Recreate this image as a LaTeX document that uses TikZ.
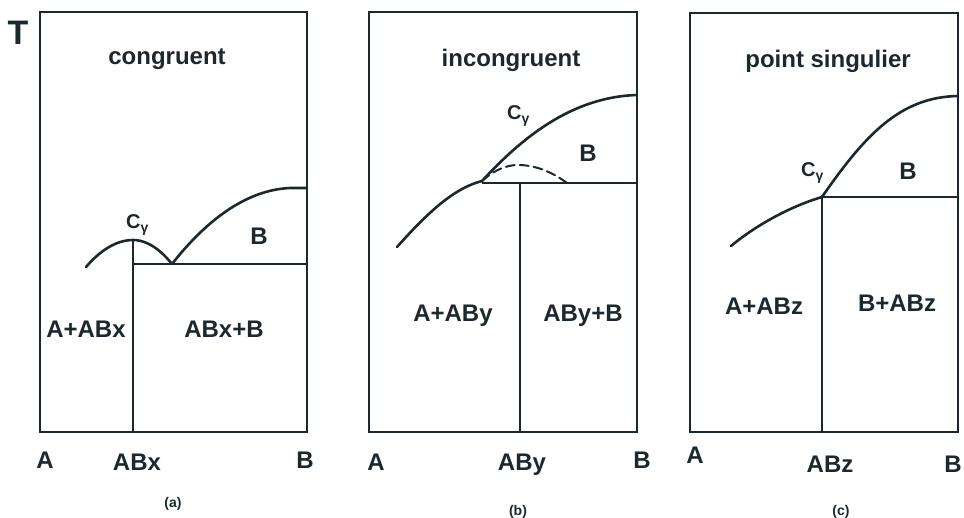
\documentclass[tikz,border=0pt]{standalone}
\usepackage{fontspec}
\setmainfont{Liberation Sans}
\usetikzlibrary{positioning}
\definecolor{ink}{RGB}{28,40,46}

\newcommand{\cgam}{C\raisebox{-4pt}{\fontsize{14}{14}\selectfont γ}}

\begin{document}
\begin{tikzpicture}[x=1pt, y=-1pt,
    frame/.style={draw=ink, line width=1.6pt},
    liquidus/.style={draw=ink, line width=2.6pt, line cap=round},
    lbl/.style={text=ink, font=\bfseries\fontsize{24}{26}\selectfont, inner sep=0pt, anchor=base},
    cgl/.style={text=ink, font=\bfseries\fontsize{20}{22}\selectfont, inner sep=0pt, anchor=base west},
    capt/.style={text=ink, font=\bfseries\fontsize{14}{16}\selectfont, inner sep=0pt, anchor=base}]
    \useasboundingbox (0,0) rectangle (964,518);

    % Temperature axis label
    \node[lbl, font=\bfseries\fontsize{34}{36}\selectfont] (T) at (18,45) {T};

    % (a) congruent
    \draw[frame] (40,12) rectangle (307,432);
    \coordinate (a-peak) at (133,240);
    \coordinate (a-eut) at (172,264);
    \coordinate (a-bot) at (133,432);
    \coordinate (a-mid) at (133,264);
    \coordinate (a-right) at (307,264);
    \draw[frame] (a-peak) -- (a-bot);
    \draw[frame] (a-mid) -- (a-right);
    \draw[liquidus] (86,267) parabola bend (a-peak) (a-eut);
    \draw[liquidus] (a-eut) .. controls (205,222) and (245,190) .. (290,188) -- (307,188);
    \node[lbl] (a-title) at (167,65) {congruent};
    \node[cgl] (a-cg) at (126,229) {\cgam};
    \node[lbl] (a-b) at (259,245) {B};
    \node[lbl] (a-left) at (86,338) {A+ABx};
    \node[lbl] (a-rightlbl) at (224,338) {ABx+B};
    \node[lbl] (a-A) at (45,468) {A};
    \node[lbl] (a-ABx) at (137,470) {ABx};
    \node[lbl] (a-B) at (305,468) {B};
    \node[capt] (a-capt) at (173,507) {(a)};

    % (b) incongruent
    \draw[frame] (369,12) rectangle (637,432);
    \coordinate (b-per) at (482,181);
    \coordinate (b-peak) at (518,165);
    \coordinate (b-end) at (567,183);
    \coordinate (b-mid) at (520,183);
    \coordinate (b-bot) at (520,432);
    \coordinate (b-right) at (637,183);
    \draw[frame] (b-per |- b-mid) -- (b-right);
    \draw[frame] (b-mid) -- (b-bot);
    \draw[liquidus] (397,247) .. controls (430,210) and (455,188) .. (b-per);
    \draw[liquidus] (b-per) .. controls (520,140) and (570,97) .. (637,95);
    \draw[liquidus, line width=2pt, dash pattern=on 9pt off 5pt] (b-per) parabola bend (b-peak) (b-end);
    \node[lbl] (b-title) at (511,67) {incongruent};
    \node[cgl] (b-cg) at (507,120) {\cgam};
    \node[lbl] (b-b) at (588,162) {B};
    \node[lbl] (b-left) at (453,322) {A+ABy};
    \node[lbl] (b-rightlbl) at (583,322) {ABy+B};
    \node[lbl] (b-A) at (376,470) {A};
    \node[lbl] (b-ABy) at (522,470) {ABy};
    \node[lbl] (b-B) at (642,468) {B};
    \node[capt] (b-capt) at (518,515) {(b)};

    % (c) point singulier
    \draw[frame] (690,13) rectangle (958,432);
    \coordinate (c-sing) at (822,197);
    \coordinate (c-bot) at (822,432);
    \coordinate (c-right) at (958,197);
    \draw[frame] (c-sing) -- (c-bot);
    \draw[frame] (c-sing) -- (c-right);
    \draw[liquidus] (731,246) .. controls (760,222) and (795,205) .. (c-sing);
    \draw[liquidus] (c-sing) .. controls (865,135) and (900,97) .. (958,96);
    \node[lbl] (c-title) at (828,68) {point singulier};
    \node[cgl] (c-cg) at (801,177) {\cgam};
    \node[lbl] (c-b) at (908,180) {B};
    \node[lbl] (c-left) at (764,315) {A+ABz};
    \node[lbl] (c-rightlbl) at (897,312) {B+ABz};
    \node[lbl] (c-A) at (695,463) {A};
    \node[lbl] (c-ABz) at (830,472) {ABz};
    \node[lbl] (c-B) at (953,472) {B};
    \node[capt] (c-capt) at (841,515) {(c)};
\end{tikzpicture}
\end{document}
